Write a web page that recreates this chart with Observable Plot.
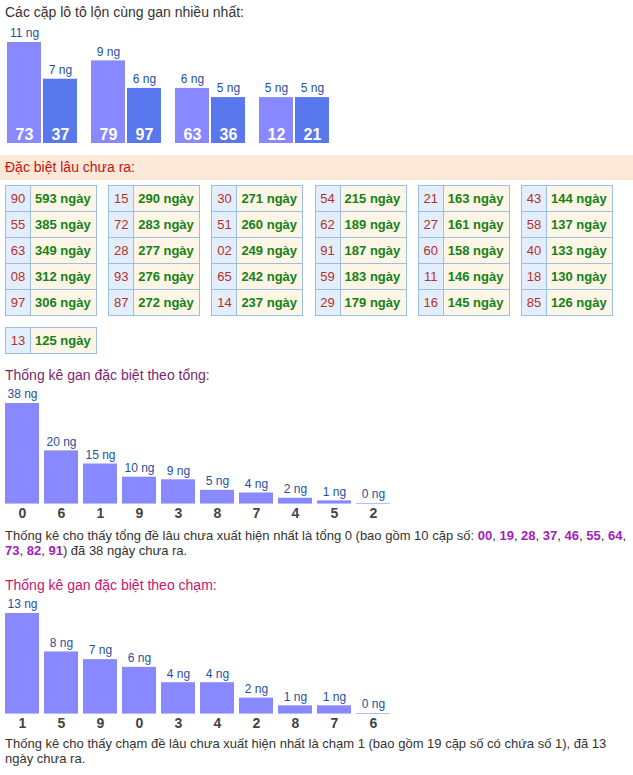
<!DOCTYPE html>
<html><head><meta charset="utf-8">
<script src="https://cdn.jsdelivr.net/npm/d3@7"></script>
<script src="https://cdn.jsdelivr.net/npm/@observablehq/plot@0.6"></script>
<style>
body{margin:0;background:#fff;font-family:"Liberation Sans",Arial,sans-serif;}
#root{position:relative;width:633px;height:775px;overflow:hidden}
.abs{position:absolute}
.title{font-size:14px;line-height:16px;left:5px;white-space:nowrap}
.band{left:0;width:633px;height:25px;background:#fde9d8;color:#cc1111;font-size:14px;line-height:25px;padding-left:5px;box-sizing:border-box}
table.g{border-collapse:collapse;width:92px;position:absolute}
table.g td{border:1px solid #9dbde3;height:25px;padding:0;font-size:13px;box-sizing:content-box}
table.g td.n{width:24px;background:#e2eefb;color:#b5302a;text-align:center}
table.g td.v{background:#fdf5e6;color:#148214;font-weight:bold;padding-left:4px}
.para{left:5px;width:626px;font-size:13px;line-height:15px;color:#333}
.para b{color:#a21cc0}
</style></head><body><div id="root"></div>
<script>
// ---- data ----
const pairNums = ["73","37","79","97","63","36","12","21"];
const pairDays = [11,7,9,6,6,5,5,5];
const specialNums = ["90","55","63","08","97","15","72","28","93","87","30","51","02","65","14","54","62","91","59","29","21","27","60","11","16","43","58","40","18","85","13"];
const specialDays = [593,385,349,312,306,290,283,277,276,272,271,260,249,242,237,215,189,187,183,179,163,161,158,146,145,144,137,133,130,126,125];
const sumDigits = ["0","6","1","9","3","8","7","4","5","2"];
const sumDays = [38,20,15,10,9,5,4,2,1,0];
const sumPairs = ["00","19","28","37","46","55","64","73","82","91"];
const touchDigits = ["1","5","9","0","3","4","2","8","7","6"];
const touchDays = [13,8,7,6,4,4,2,1,1,0];

const root = document.getElementById("root");
function addDiv(cls, top, html){const d=document.createElement("div");d.className="abs "+cls;d.style.top=top+"px";d.innerHTML=html;root.appendChild(d);return d;}
const FONT = '"Liberation Sans", Arial, sans-serif';

// ---- section 1 ----
addDiv("title", 4, "Các cặp lô tô lộn cùng gan nhiều nhất:").style.color="#333";
const pairs = pairNums.map((n,i)=>({num:n, days:pairDays[i], pos:i%2}));
const first = pairs.filter(d=>d.pos===0), second = pairs.filter(d=>d.pos===1);
const c1 = Plot.plot({
  width:340, height:150, marginLeft:1, marginRight:3, marginTop:42, marginBottom:7,
  style:{fontFamily:FONT, background:"transparent", overflow:"visible"},
  x:{domain:pairNums, paddingInner:0, paddingOuter:0, axis:null},
  y:{domain:[0,11], axis:null},
  marks:[
    Plot.barY(first,{x:"num", y:"days", fill:"#8888ff", insetLeft:6, insetRight:2}),
    Plot.barY(second,{x:"num", y:"days", fill:"#5a78ee", insetLeft:0, insetRight:8}),
    Plot.text(first,{x:"num", y:"days", text:d=>d.days+" ng", dx:2, dy:-9, fontSize:12, fill:"#1f4f9f"}),
    Plot.text(second,{x:"num", y:"days", text:d=>d.days+" ng", dx:-4, dy:-9, fontSize:12, fill:"#1f4f9f"}),
    Plot.text(first,{x:"num", y:0, text:"num", dx:2, dy:-9, fontSize:16, fontWeight:"bold", fill:"white"}),
    Plot.text(second,{x:"num", y:0, text:"num", dx:-4, dy:-9, fontSize:16, fontWeight:"bold", fill:"white"})
  ]
});
c1.style.position="absolute"; c1.style.top="0px"; c1.style.left="0px";
root.appendChild(c1);

// ---- section 2 ----
addDiv("band", 155, "Đặc biệt lâu chưa ra:");
const groups = d3.range(0, specialNums.length, 5).map(s=>d3.range(s, Math.min(s+5, specialNums.length)));
groups.forEach((g,gi)=>{
  const row = gi<6 ? 0 : 1, col = gi<6 ? gi : gi-6;
  const t = document.createElement("table"); t.className="g";
  t.style.left = (5 + col*103.2)+"px"; t.style.top = (row===0?185:327)+"px";
  g.forEach(i=>{const tr=t.insertRow();const a=tr.insertCell();a.className="n";a.textContent=specialNums[i];const b=tr.insertCell();b.className="v";b.textContent=specialDays[i]+" ngày";});
  root.appendChild(t);
});

// ---- bar chart helper ----
function ganChart(digits, days, top){
  const data = digits.map((d,i)=>({digit:d, days:days[i]}));
  const c = Plot.plot({
    width:400, height:140, marginLeft:5, marginRight:10, marginTop:18, marginBottom:22,
    style:{fontFamily:FONT, background:"transparent", overflow:"visible"},
    x:{domain:digits, paddingInner:5/39, paddingOuter:0, label:null},
    y:{domain:[0, d3.max(days)], axis:null},
    marks:[
      Plot.tickY(data,{x:"digit", y:0, stroke:"#b8bcff", strokeWidth:1}),
      Plot.barY(data,{x:"digit", y:"days", fill:"#8888ff"}),
      Plot.text(data,{x:"digit", y:"days", text:d=>d.days+" ng", dy:-9, fontSize:12, fill:"#1f4f9f"}),
      Plot.axisX({tickSize:0, tickPadding:5, fontSize:14, fontWeight:"bold", fill:"#444", label:null})
    ]
  });
  c.style.position="absolute"; c.style.top=top+"px"; c.style.left="0px";
  root.appendChild(c);
}

// ---- section 3 ----
addDiv("title", 367, "Thống kê gan đặc biệt theo tổng:").style.color="#7b1f6f";
ganChart(sumDigits, sumDays, 385);
addDiv("para", 528, "Thống kê cho thấy tổng đề lâu chưa xuất hiện nhất là tổng "+sumDigits[0]+" (bao gồm "+sumPairs.length+" cặp số: "+sumPairs.map(p=>"<b>"+p+"</b>").join(", ")+") đã "+sumDays[0]+" ngày chưa ra.");

// ---- section 4 ----
addDiv("title", 577, "Thống kê gan đặc biệt theo chạm:").style.color="#c8156e";
ganChart(touchDigits, touchDays, 595);
addDiv("para", 736, "Thống kê cho thấy chạm đề lâu chưa xuất hiện nhất là chạm "+touchDigits[0]+" (bao gồm 19 cặp số có chứa số "+touchDigits[0]+"), đã "+touchDays[0]+" ngày chưa ra.");
</script></body></html>
